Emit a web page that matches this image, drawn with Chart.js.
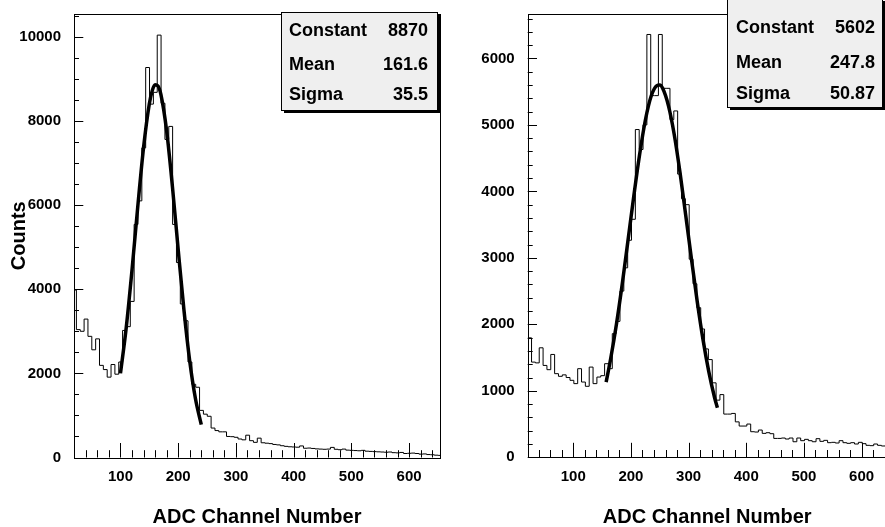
<!DOCTYPE html>
<html>
<head>
<meta charset="utf-8">
<script src="https://cdn.jsdelivr.net/npm/chart.js@4.4.0/dist/chart.umd.min.js"></script>
<style>
  html, body { margin: 0; padding: 0; background: #fff; overflow: hidden; }
  body { width: 885px; height: 527px; position: relative; }
  canvas { position: absolute; top: 0; }
  #leftChart { left: 0; }
  #rightChart { left: 442px; }
</style>
</head>
<body>
<canvas id="leftChart" width="442" height="527"></canvas>
<canvas id="rightChart" width="447" height="527"></canvas>
<script>
// histogram binning (ADC channels)
const binWidth = 20 / 3;
const leftBinStart = 17;
const rightBinStart = 21;

// counts per bin
const leftCounts = [
  3980, 3040, 3000, 3290, 2880, 2560, 2820, 2190, 2090, 1910,
  2210, 1980, 2270, 3020, 3110, 3710, 5540, 6100, 7360, 9270,
  8400, 8680, 10040, 8420, 7560, 7870, 5540, 4635, 3650, 3250,
  2270, 1740, 1670, 1120, 1030, 980, 700, 640, 610, 610,
  500, 495, 480, 440, 420, 530, 400, 360, 460, 350,
  340, 330, 310, 300, 280, 265, 255, 250, 245, 275,
  220, 225, 215, 205, 200, 195, 200, 240, 195, 185,
  200, 175, 170, 165, 160, 170, 150, 145, 140, 135,
  130, 125, 130, 115, 110, 120, 95, 100, 105, 95,
  80, 85, 70, 65, 55, 50
];
const rightCounts = [
  1797, 1432, 1420, 1647, 1382, 1318, 1547, 1258, 1218, 1240,
  1200, 1158, 1108, 1333, 1132, 1068, 1357, 1108, 1207, 1228,
  1408, 1333, 1860, 2045, 2500, 2850, 3265, 3580, 4930, 4630,
  5000, 6360, 5440, 5440, 6360, 5550, 5550, 5080, 5210, 4260,
  3890, 3800, 2980, 2610, 2250, 1930, 1630, 1470, 1120, 860,
  943, 650, 650, 660, 533, 470, 470, 500, 385, 380,
  410, 360, 370, 355, 284, 284, 290, 275, 290, 234,
  290, 250, 270, 250, 234, 280, 240, 255, 220, 225,
  215, 250, 220, 210, 220, 200, 225, 205, 180, 175,
  200, 180, 170, 175
];

// gaussian fit curves
const leftFitX = [100, 110, 120, 130, 140, 150, 155, 160, 165, 170, 180, 190, 200, 210, 220, 230, 240];
const leftFitY = [2000, 3090, 4460, 5970, 7370, 8410, 8720, 8860, 8830, 8630, 7760, 6440, 4940, 3500, 2290, 1390, 780];
const rightFitX = [157, 165, 175, 185, 195, 205, 215, 225, 235, 245, 250, 255, 265, 275, 285, 295, 305, 315, 325, 335, 345, 350];
const rightFitY = [1130, 1490, 2010, 2610, 3270, 3930, 4550, 5070, 5430, 5590, 5600, 5550, 5290, 4860, 4290, 3640, 2980, 2340, 1770, 1290, 900, 745];

// tick labels
const xTicks = [100, 200, 300, 400, 500, 600];
const leftYTicks = [0, 2000, 4000, 6000, 8000, 10000];
const rightYTicks = [0, 1000, 2000, 3000, 4000, 5000, 6000];

// stats box
const statNames = ['Constant', 'Mean', 'Sigma'];
const leftStats = ['8870', '161.6', '35.5'];
const rightStats = ['5602', '247.8', '50.87'];

const FONT = '"Liberation Sans", Arial, Helvetica, sans-serif';

function histPoints(start, counts) {
  const pts = counts.map((c, i) => ({x: start + i * binWidth, y: c}));
  pts.push({x: start + counts.length * binWidth, y: counts[counts.length - 1]});
  return pts;
}
function fitPoints(xs, ys) {
  return xs.map((x, i) => ({x: x, y: ys[i]}));
}

// ROOT look: frame, inward ticks, stats box
const rootStyle = {
  id: 'rootStyle',
  afterDatasetsDraw(chart, args, o) {
    const {ctx, chartArea: a} = chart;
    const x = chart.scales.x, y = chart.scales.y;
    ctx.save();
    ctx.strokeStyle = '#000';
    ctx.lineWidth = 1;
    ctx.beginPath();
    for (let v = 20; v <= x.max; v += 20) {
      if (v <= x.min + 1) continue;
      const px = Math.round(x.getPixelForValue(v)) + 0.5;
      const len = v % 100 === 0 ? 14.5 : 7.3;
      ctx.moveTo(px, a.bottom);
      ctx.lineTo(px, a.bottom - len);
    }
    for (let v = 0; v <= y.max; v += o.yMinor) {
      const py = Math.round(y.getPixelForValue(v)) + 0.5;
      const len = v % o.yMajor === 0 ? 9.3 : 5;
      ctx.moveTo(a.left, py);
      ctx.lineTo(a.left + len, py);
    }
    ctx.stroke();
    ctx.strokeRect(Math.round(a.left) + 0.5, Math.round(a.top) + 0.5,
                   Math.round(a.right - a.left), Math.round(a.bottom - a.top));
    ctx.restore();
  },
  afterDraw(chart, args, o) {
    const ctx = chart.ctx;
    const b = o.box;
    ctx.save();
    ctx.fillStyle = '#000';
    ctx.fillRect(b.x + 3, b.y + 3, b.w, b.h);
    ctx.fillStyle = '#efefef';
    ctx.fillRect(b.x, b.y, b.w, b.h);
    ctx.strokeStyle = '#000';
    ctx.lineWidth = 1;
    ctx.strokeRect(b.x + 0.5, b.y + 0.5, b.w, b.h);
    ctx.fillStyle = '#000';
    ctx.font = 'bold 18px ' + FONT;
    statNames.forEach((name, i) => {
      ctx.textAlign = 'left';
      ctx.fillText(name, b.tx, b.rows[i]);
      ctx.textAlign = 'right';
      ctx.fillText(o.values[i], b.vx, b.rows[i]);
    });
    ctx.restore();
  }
};

function makePanel(id, p) {
  const tickFont = {family: FONT, size: 15, weight: 'bold', lineHeight: 1.2};
  const titleFont = {family: FONT, size: 20, weight: 'bold', lineHeight: 1};
  new Chart(document.getElementById(id), {
    type: 'line',
    data: {
      datasets: [
        {
          data: fitPoints(p.fitX, p.fitY),
          borderColor: '#000',
          borderWidth: 3.5,
          pointRadius: 0,
          cubicInterpolationMode: 'monotone',
          fill: false
        },
        {
          data: histPoints(p.binStart, p.counts),
          borderColor: '#000',
          borderWidth: 1,
          pointRadius: 0,
          stepped: true,
          fill: false
        }
      ]
    },
    options: {
      responsive: false,
      animation: false,
      devicePixelRatio: 1,
      layout: {padding: {left: 0, top: 12, right: p.padRight, bottom: 0}},
      plugins: {
        legend: {display: false},
        tooltip: {enabled: false},
        rootStyle: {yMajor: p.yMajor, yMinor: p.yMinor, box: p.box, values: p.stats}
      },
      scales: {
        x: {
          type: 'linear',
          min: p.xMin,
          max: p.xMax,
          grid: {display: false},
          border: {display: false},
          afterBuildTicks: s => { s.ticks = xTicks.map(v => ({value: v})); },
          ticks: {
            autoSkip: false, maxRotation: 0,
            padding: 2.5, color: '#000', font: tickFont,
            callback: v => String(v)
          },
          title: {display: true, text: 'ADC Channel Number', color: '#000', font: titleFont,
                  padding: {top: 0, bottom: 0}},
          afterFit: s => { s.height = p.xAxisHeight; }
        },
        y: {
          type: 'linear',
          min: 0,
          max: p.yMax,
          grid: {display: false},
          border: {display: false},
          afterBuildTicks: s => { s.ticks = p.yTicks.map(v => ({value: v})); },
          ticks: {
            autoSkip: false, padding: 5, color: '#000', font: tickFont,
            callback: v => String(v)
          },
          title: {display: !!p.yTitle, text: p.yTitle || '', color: '#000', font: titleFont,
                  padding: {top: 9, bottom: 0}},
          afterFit: s => { s.width = p.yAxisWidth; }
        }
      }
    },
    plugins: [rootStyle]
  });
}

makePanel('leftChart', {
  binStart: leftBinStart, counts: leftCounts, fitX: leftFitX, fitY: leftFitY,
  xMin: 19.5, xMax: 653.5, yMax: 10542, yTicks: leftYTicks, yMajor: 2000, yMinor: 500,
  yTitle: 'Counts', yAxisWidth: 74, xAxisHeight: 69.5, padRight: 2,
  stats: leftStats,
  box: {x: 281, y: 12, w: 156, h: 98, tx: 289, vx: 428, rows: [36, 70, 100]}
});

makePanel('rightChart', {
  binStart: rightBinStart, counts: rightCounts, fitX: rightFitX, fitY: rightFitY,
  xMin: 21, xMax: 643.5, yMax: 6668, yTicks: rightYTicks, yMajor: 1000, yMinor: 200,
  yTitle: '', yAxisWidth: 85.7, xAxisHeight: 69.7, padRight: 2.3,
  stats: rightStats,
  box: {x: 285, y: -2, w: 155, h: 109, tx: 294, vx: 433, rows: [33, 68, 99]}
});
</script>
</body>
</html>
